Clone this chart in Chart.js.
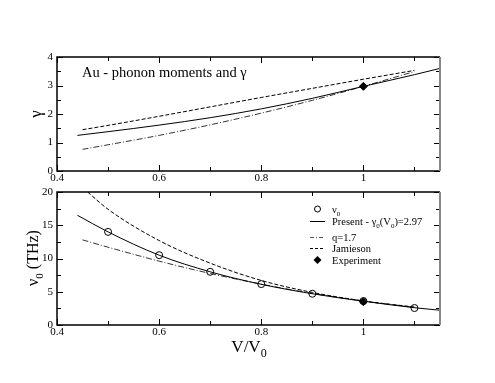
<!DOCTYPE html>
<html><head><meta charset="utf-8">
<script src="https://cdn.jsdelivr.net/npm/chart.js@4"></script>
<style>
body{margin:0;background:#fff;width:495px;height:383px;position:relative;overflow:hidden}
canvas{position:absolute;left:0;top:0}
</style></head><body>
<canvas id="c1" width="495" height="383"></canvas>
<canvas id="c2" width="495" height="383"></canvas>
<script>
// ---- Top panel: gamma vs V/V0 ----
const gPresentV   = [0.44, 0.5, 0.6, 0.7, 0.8, 0.9, 1.0, 1.1, 1.15];
const gPresent    = [1.25, 1.38, 1.61, 1.87, 2.18, 2.55, 2.97, 3.38, 3.6];
const gJamiesonV  = [0.45, 0.5, 0.6, 0.7, 0.8, 0.9, 1.0, 1.1];
const gJamieson   = [1.45, 1.6, 1.92, 2.25, 2.58, 2.9, 3.22, 3.53];
const gQV         = [0.45, 0.5, 0.6, 0.7, 0.8, 0.9, 1.0, 1.1];
const gQ          = [0.76, 0.92, 1.25, 1.62, 2.03, 2.48, 2.97, 3.49];
const gExpV       = [1.0];
const gExp        = [2.97];
// ---- Bottom panel: nu0 (THz) vs V/V0 ----
const nuPointsV   = [0.5, 0.6, 0.7, 0.8, 0.9, 1.0, 1.1];
const nuPoints    = [14.0, 10.5, 8.0, 6.15, 4.7, 3.6, 2.55];
const nuPresentV  = [0.44, 0.5, 0.6, 0.7, 0.8, 0.9, 1.0, 1.1, 1.15];
const nuPresent   = [16.5, 14.0, 10.5, 8.0, 6.12, 4.7, 3.58, 2.6, 2.22];
const nuQV        = [0.45, 0.5, 0.6, 0.7, 0.8, 0.9, 1.0, 1.1];
const nuQ         = [12.8, 11.7, 9.6, 7.75, 6.15, 4.75, 3.6, 2.65];
const nuJamiesonV = [0.46, 0.5, 0.6, 0.7, 0.8, 0.9, 1.0, 1.1];
const nuJamieson  = [20.0, 17.4, 12.7, 9.3, 6.7, 4.9, 3.62, 2.7];
const nuExpV      = [1.0];
const nuExp       = [3.5];
// ---- axes ----
const xMin = 0.4, xMax = 1.15;
const xMajor = [0.4, 0.6, 0.8, 1.0];
const xMinor = [0.5, 0.7, 0.9, 1.1];
const gMajor = [0, 1, 2, 3, 4];
const gMinor = [0.5, 1.5, 2.5, 3.5];
const nuMajor = [0, 5, 10, 15, 20];
const nuMinor = [2.5, 7.5, 12.5, 17.5];

const SERIF = '"Liberation Serif", "DejaVu Serif", serif';
const pts = (xs, ys) => xs.map((x, i) => ({x, y: ys[i]}));

function lineDs(label, xs, ys, dash, color) {
  return {label, data: pts(xs, ys), borderColor: color || '#000', borderWidth: 1,
    borderDash: dash || [], pointRadius: 0, showLine: true, fill: false,
    cubicInterpolationMode: 'monotone'};
}
function markDs(label, xs, ys, style, filled, r) {
  return {label, data: pts(xs, ys), showLine: false, pointStyle: style,
    pointRadius: r, pointBorderColor: '#000', pointBorderWidth: 1,
    pointBackgroundColor: filled ? '#000' : 'rgba(0,0,0,0)'};
}

function textSub(ctx, parts, x, y, size) {
  let cx = x;
  for (const [t, sub] of parts) {
    ctx.font = (sub ? Math.round(size * 0.7) : size) + 'px ' + SERIF;
    ctx.fillText(t, cx, sub ? y + size * 0.3 : y);
    cx += ctx.measureText(t).width;
  }
  return cx - x;
}
function widthSub(ctx, parts, size) {
  let w = 0;
  for (const [t, sub] of parts) {
    ctx.font = (sub ? Math.round(size * 0.7) : size) + 'px ' + SERIF;
    w += ctx.measureText(t).width;
  }
  return w;
}

function framePlugin(yMajor, yMinor, extra) {
  return {
    id: 'frame',
    afterDatasetsDraw(chart) {
      const {ctx, chartArea: a, scales: {x, y}} = chart;
      ctx.save();
      ctx.strokeStyle = '#000';
      ctx.lineWidth = 1;
      ctx.beginPath();
      const tick = (px, len) => {
        ctx.moveTo(px + 0.5, a.bottom); ctx.lineTo(px + 0.5, a.bottom - len);
        ctx.moveTo(px + 0.5, a.top); ctx.lineTo(px + 0.5, a.top + len);
      };
      xMajor.forEach(v => tick(Math.round(x.getPixelForValue(v)), 6));
      xMinor.forEach(v => tick(Math.round(x.getPixelForValue(v)), 4));
      const ytick = (py, len) => {
        ctx.moveTo(a.left, py + 0.5); ctx.lineTo(a.left + len, py + 0.5);
        ctx.moveTo(a.right, py + 0.5); ctx.lineTo(a.right - len, py + 0.5);
      };
      yMajor.forEach(v => ytick(Math.round(y.getPixelForValue(v)), 6));
      yMinor.forEach(v => ytick(Math.round(y.getPixelForValue(v)), 4));
      ctx.stroke();
      ctx.lineWidth = 1.5;
      ctx.beginPath();
      ctx.moveTo(a.right, a.top); ctx.lineTo(a.left, a.top);
      ctx.lineTo(a.left, a.bottom); ctx.lineTo(a.right, a.bottom);
      ctx.stroke();
      ctx.strokeStyle = '#888';
      ctx.lineWidth = 2;
      ctx.beginPath();
      ctx.moveTo(a.right, a.top); ctx.lineTo(a.right, a.bottom);
      ctx.stroke();
      ctx.restore();
      if (extra) extra(chart);
    }
  };
}

function baseOptions(top, bottom, yMin, yMax, yTicks) {
  return {
    responsive: false, animation: false, devicePixelRatio: 1,
    layout: {padding: {top: top, right: 495 - 440, bottom: 383 - bottom - 18, left: 0}},
    plugins: {legend: {display: false}, tooltip: {enabled: false}},
    scales: {
      x: {type: 'linear', min: xMin, max: xMax,
        afterFit: s => { s.height = 18; },
        afterBuildTicks: s => { s.ticks = xMajor.map(v => ({value: v})); },
        grid: {display: false, drawTicks: false, tickLength: 0}, border: {display: false},
        ticks: {padding: 1, color: '#000', font: {family: SERIF, size: 11},
          maxRotation: 0, autoSkip: false,
          callback: v => (v === 1 ? '1' : String(v))}},
      y: {type: 'linear', min: yMin, max: yMax,
        afterFit: s => { s.width = 57; },
        afterBuildTicks: s => { s.ticks = yTicks.map(v => ({value: v})); },
        grid: {display: false, drawTicks: false, tickLength: 0}, border: {display: false},
        ticks: {padding: 4, color: '#000', font: {family: SERIF, size: 11}}}
    }
  };
}

// Top chart
new Chart(document.getElementById('c1'), {
  type: 'scatter',
  data: {datasets: [
    lineDs('Present', gPresentV, gPresent),
    lineDs('Jamieson', gJamiesonV, gJamieson, [4, 2]),
    lineDs('q=1.7', gQV, gQ, [6, 2, 1, 2], '#333'),
    markDs('Experiment', gExpV, gExp, 'rectRot', true, 4)
  ]},
  options: baseOptions(57, 171, 0, 4, gMajor),
  plugins: [framePlugin(gMajor, gMinor, chart => {
    const ctx = chart.ctx;
    ctx.save();
    ctx.fillStyle = '#000';
    ctx.textBaseline = 'alphabetic';
    ctx.font = '14.5px ' + SERIF;
    ctx.fillText('Au - phonon moments and \u03b3', 82, 77);
    ctx.translate(41, 114);
    ctx.rotate(-Math.PI / 2);
    ctx.font = '17px ' + SERIF;
    ctx.textAlign = 'center';
    ctx.fillText('\u03b3', 0, 0);
    ctx.restore();
  })]
});

// Bottom chart
new Chart(document.getElementById('c2'), {
  type: 'scatter',
  data: {datasets: [
    lineDs('Present', nuPresentV, nuPresent),
    lineDs('Jamieson', nuJamiesonV, nuJamieson, [4, 2]),
    lineDs('q=1.7', nuQV, nuQ, [6, 2, 1, 2], '#333'),
    markDs('nu0', nuPointsV, nuPoints, 'circle', false, 3.5),
    markDs('Experiment', nuExpV, nuExp, 'rectRot', true, 4)
  ]},
  options: baseOptions(192, 325, 0, 20, nuMajor),
  plugins: [framePlugin(nuMajor, nuMinor, chart => {
    const ctx = chart.ctx;
    ctx.save();
    ctx.fillStyle = '#000';
    ctx.strokeStyle = '#000';
    ctx.textBaseline = 'alphabetic';
    // legend
    const lx0 = 310, lx1 = 325, tx = 332, fs = 10.5;
    const rows = [
      {y: 209, sym: 'circle', parts: [['\u03bd', false], ['0', true]]},
      {y: 221, sym: 'solid', parts: [['Present - \u03b3', false], ['0', true], ['(V', false], ['0', true], [')=2.97', false]]},
      {y: 237, sym: 'dashdot', parts: [['q=1.7', false]]},
      {y: 248, sym: 'dash', parts: [['Jamieson', false]]},
      {y: 260, sym: 'diamond', parts: [['Experiment', false]]}
    ];
    rows.forEach(r => {
      ctx.lineWidth = 1;
      ctx.beginPath();
      if (r.sym === 'circle') {
        ctx.arc((lx0 + lx1) / 2, r.y, 3, 0, Math.PI * 2); ctx.stroke();
      } else if (r.sym === 'diamond') {
        const cx = (lx0 + lx1) / 2;
        ctx.moveTo(cx, r.y - 4); ctx.lineTo(cx + 4, r.y); ctx.lineTo(cx, r.y + 4); ctx.lineTo(cx - 4, r.y);
        ctx.closePath(); ctx.fill();
      } else {
        ctx.setLineDash(r.sym === 'dash' ? [3, 2] : r.sym === 'dashdot' ? [4, 2, 1, 2] : []);
        ctx.strokeStyle = r.sym === 'dashdot' ? '#555' : '#000';
        ctx.moveTo(lx0, r.y + 0.5); ctx.lineTo(lx1, r.y + 0.5); ctx.stroke();
        ctx.setLineDash([]);
        ctx.strokeStyle = '#000';
      }
      textSub(ctx, r.parts, tx, r.y + 4, fs);
    });
    // x title
    const xparts = [['V/V', false], ['0', true]];
    const xw = widthSub(ctx, xparts, 17);
    textSub(ctx, xparts, 249 - xw / 2, 352, 17);
    // y title
    ctx.translate(38, 258);
    ctx.rotate(-Math.PI / 2);
    const yparts = [['\u03bd', false], ['0', true], [' (THz)', false]];
    const yw = widthSub(ctx, yparts, 16);
    textSub(ctx, yparts, -yw / 2, 0, 16);
    ctx.restore();
  })]
});
</script>
</body></html>
